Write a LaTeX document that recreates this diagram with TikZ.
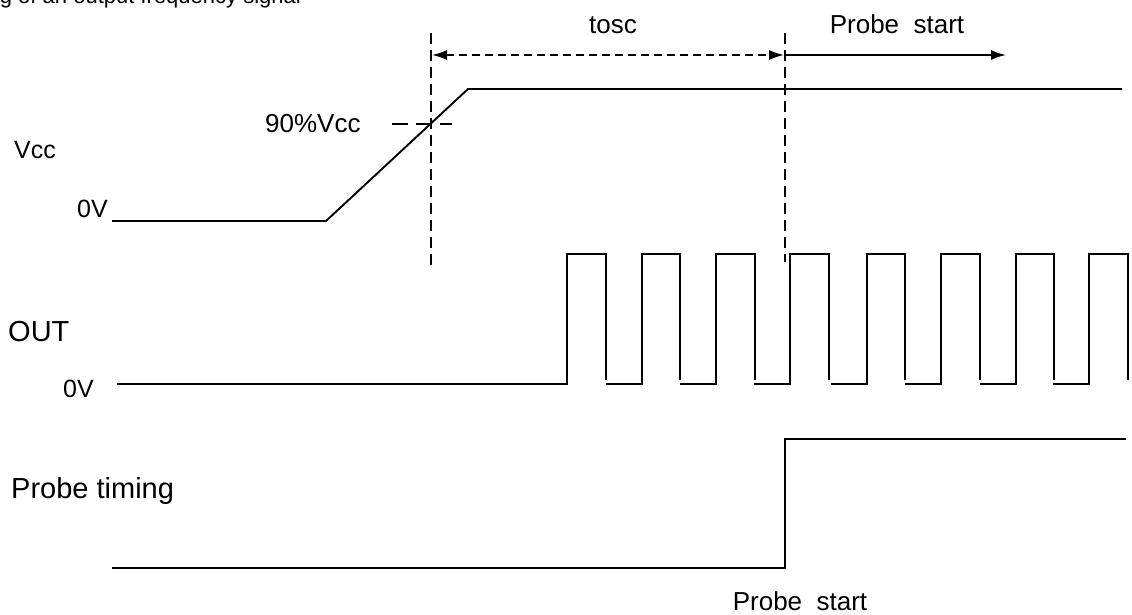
\documentclass[tikz,border=0pt]{standalone}
\usepackage{fontspec}
\setmainfont{Liberation Sans}
\usetikzlibrary{arrows.meta}
\begin{document}
\begin{tikzpicture}[x=1pt,y=-1pt,
  bigtip/.tip={Latex[length=15pt,width=10pt]},
  wave/.style={line width=1.9pt,line join=miter},
  guide/.style={line width=1.8pt,dash pattern=on 11pt off 6pt},
  lbl/.style={inner sep=0pt,anchor=base west},
  dimarrow/.style={line width=1.7pt,-{bigtip}},
  dimdash/.style={line width=1.7pt,dash pattern=on 8pt off 5pt,{bigtip}-{bigtip}},
  f22/.style={font=\fontsize{22}{26}\selectfont},
  f25/.style={font=\fontsize{25}{30}\selectfont},
  f26/.style={font=\fontsize{26}{31}\selectfont},
  f29/.style={font=\fontsize{29}{34}\selectfont}]
\useasboundingbox (0,0) rectangle (1132,615);
\fill[white] (0,0) rectangle (1132,615);
\begin{scope}
\clip (0,0) rectangle (1132,615);
\node[inner sep=0pt,anchor=base east,f22] (title) at (301,4) {Timing of an output frequency signal};
\end{scope}

% labels
\node[lbl,f25] (vcc) at (14,158) {Vcc};
\node[lbl,f25] (zv1) at (77,217) {0V};
\node[lbl,f29] (out) at (8,341) {OUT};
\node[lbl,f25] (zv2) at (63,397) {0V};
\node[lbl,f29] (probe) at (11,498) {Probe timing};
\node[lbl,f26] (p90) at (265,132) {90\%Vcc};
\node[inner sep=0pt,anchor=base,f26] (tosc) at (613,34) {tosc};
\node[inner sep=0pt,anchor=base,f26] (pstop) at (897,34) {Probe\ \ start};
\node[inner sep=0pt,anchor=base,f26] (psbot) at (800,610) {Probe\ \ start};

% Vcc waveform
\coordinate (v0) at (112,221);
\coordinate (v1) at (326,221);
\coordinate (v2) at (468,89);
\coordinate (v3) at (1122,89);
\draw[wave] (v0) -- (v1) -- (v2) -- (v3);

% guides
\coordinate (g1t) at (431,33);
\coordinate (g1b) at (431,268);
\coordinate (g2t) at (785,33);
\coordinate (g2b) at (785,262);
\draw[guide] (g1t) -- (g1b);
\draw[guide] (g2t) -- (g2b);
\coordinate (h1) at (392,124);
\coordinate (h2) at (452,124);
\draw[line width=1.8pt,dash pattern=on 16pt off 8pt] (h1) -- (h2);

% dimension arrows
\coordinate (a1) at (432,55);
\coordinate (a2) at (784,55);
\coordinate (a3) at (786,55);
\coordinate (a4) at (1006,55);
\draw[dimdash] (a1) -- (a2);
\draw[dimarrow] (a3) -- (a4);

% OUT waveform
\coordinate (o0) at (117,384);
\draw[wave] (o0) -- (567,384) -- (567,254) -- (606,254) -- (606,380);
\foreach \r/\f in {642/680,716/755,790/829,867/905,941/980,1016/1054,1089/1128}{
  \pgfmathsetmacro{\prevf}{\r-36}
  \draw[wave] (\prevf,384) -- (\r,384) -- (\r,254) -- (\f,254) -- (\f,380);
}

% Probe timing
\coordinate (p0) at (112,568);
\coordinate (p1) at (785,568);
\coordinate (p2) at (785,439);
\coordinate (p3) at (1126,439);
\draw[wave] (p0) -- (p1) -- (p2) -- (p3);
\end{tikzpicture}
\end{document}
